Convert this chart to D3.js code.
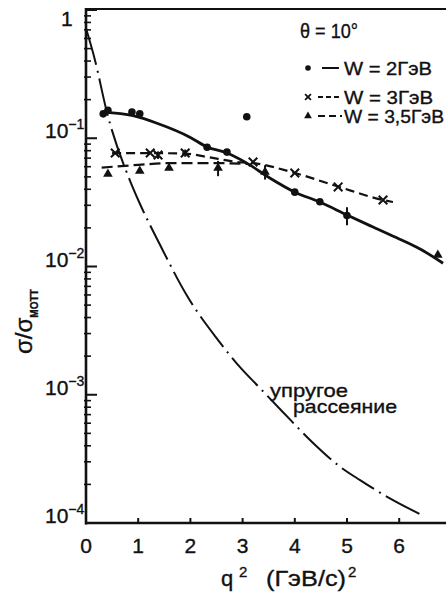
<!DOCTYPE html>
<html>
<head>
<meta charset="utf-8">
<script src="https://cdn.jsdelivr.net/npm/d3@7"></script>
<style>
  html, body { margin: 0; padding: 0; background: #fff; }
  svg { display: block; font-family: "Liberation Sans", "DejaVu Sans", sans-serif; }
  text { fill: #111; stroke: #111; stroke-width: 0.35; }
</style>
</head>
<body>
<svg width="446" height="595"></svg>
<script>
var width = 446,
    height = 595

// W = 2 GeV  (dots, solid curve)
var w2Q = [0.33, 0.42, 0.88, 1.03, 2.32, 2.70, 3.08, 4.00, 4.48, 5.00]
var w2Val = [0.155, 0.165, 0.160, 0.155, 0.085, 0.078, 0.147, 0.038, 0.032, 0.025]
var w2Err = [0, 0, 0, 0, 0, 0, 0, 0, 0, 0.004]
var w2LineQ = [0.33, 0.90, 1.36, 1.99, 2.32, 2.70, 3.08, 3.52, 4.00, 4.48, 5.00, 5.50, 6.00, 6.40, 6.84]
var w2LineVal = [0.160, 0.150, 0.131, 0.102, 0.0855, 0.0767, 0.064, 0.049, 0.038, 0.0318, 0.0252, 0.0203, 0.0164, 0.0137, 0.0106]

// W = 3 GeV  (crosses, short dashes)
var w3Q = [0.56, 1.23, 1.38, 1.90, 3.20, 4.00, 4.83, 5.69]
var w3Val = [0.0767, 0.0767, 0.074, 0.0767, 0.0653, 0.0536, 0.0417, 0.033]
var w3Err = [0, 0, 0.005, 0.005, 0, 0, 0, 0]
var w3LineQ = [0.50, 1.00, 1.90, 2.32, 2.95, 3.20, 4.00, 4.83, 5.69, 5.88]
var w3LineVal = [0.0767, 0.0767, 0.076, 0.0714, 0.065, 0.064, 0.0536, 0.042, 0.033, 0.0318]

// W = 3,5 GeV  (triangles, long dashes)
var w35Q = [0.42, 1.03, 1.59, 2.53, 3.43, 6.74]
var w35Val = [0.0526, 0.0555, 0.0586, 0.0586, 0.0546, 0.0123]
var w35Err = [0, 0, 0, 0.008, 0.007, 0]
var w35LineQ = [0.30, 1.00, 1.60, 2.50, 3.10]
var w35LineVal = [0.059, 0.062, 0.064, 0.064, 0.063]

// elastic scattering (dash-dot)
var elQ = [0, 0.17, 0.40, 0.84, 1.03, 1.42, 1.95, 2.53, 2.95, 3.33, 3.77, 4.35, 4.87, 5.25, 5.77, 6.44]
var elVal = [0.72, 0.41, 0.16, 0.047, 0.031, 0.0147, 0.00578, 0.00267, 0.00164, 0.00113, 0.000734, 0.000421, 0.000274, 0.000216, 0.000160, 0.000115]

var xTicks = [0, 1, 2, 3, 4, 5, 6, 7]
var yTicks = [1, 1e-1, 1e-2, 1e-3, 1e-4]
var yTickExp = ["", "-1", "-2", "-3", "-4"]
var legendNames = ["W = 2ГэВ", "W = 3ГэВ", "W = 3,5ГэВ"]

var svg = d3.select("svg")

var x = d3.scaleLinear().domain([0, 7]).range([86, 451.4])
var y = d3.scaleLog().domain([1e-4, 1]).range([523, 10])

// frame: top line, y axis, x axis
svg.append("line").attr("x1", x(0)).attr("x2", width).attr("y1", 9).attr("y2", 9)
    .attr("stroke", "#111").attr("stroke-width", 2.2)
svg.append("line").attr("x1", x(0)).attr("x2", x(0)).attr("y1", 8).attr("y2", 524.5)
    .attr("stroke", "#111").attr("stroke-width", 2.6)
svg.append("line").attr("x1", x(0) - 1).attr("x2", width).attr("y1", y(1e-4)).attr("y2", y(1e-4))
    .attr("stroke", "#111").attr("stroke-width", 2.6)

// x ticks
var xAxis = svg.append("g")
xAxis.selectAll(".xt").data(xTicks.slice(1)).enter().append("line")
    .attr("x1", d => x(d)).attr("x2", d => x(d))
    .attr("y1", y(1e-4)).attr("y2", y(1e-4) - 5)
    .attr("stroke", "#111").attr("stroke-width", 2)
xAxis.selectAll(".xl").data(xTicks).enter().append("text")
    .attr("x", d => x(d)).attr("y", 553)
    .attr("text-anchor", "middle").attr("font-size", 21)
    .text(d => d)

// y ticks, major and minor
var minor = []
for (var e = -4; e < 0; e++) {
    for (var m = 2; m <= 9; m++) minor.push(m * Math.pow(10, e))
}
svg.selectAll(".ymin").data(minor).enter().append("line")
    .attr("x1", x(0) - 2).attr("x2", x(0) + 5)
    .attr("y1", d => y(d)).attr("y2", d => y(d))
    .attr("stroke", "#111").attr("stroke-width", 1.6)
svg.selectAll(".ymaj").data(yTicks).enter().append("line")
    .attr("x1", x(0)).attr("x2", x(0) + 11)
    .attr("y1", d => y(d)).attr("y2", d => y(d))
    .attr("stroke", "#111").attr("stroke-width", 2)

var yl = svg.selectAll(".yl").data(yTicks).enter().append("text")
    .attr("x", (d, i) => i == 0 ? 61 : 45)
    .attr("y", d => Math.max(y(d), 26))
    .attr("font-size", 21)
yl.append("tspan").text((d, i) => i == 0 ? "1" : "10")
yl.append("tspan").attr("font-size", 14).attr("dy", -9)
    .text((d, i) => yTickExp[i] == "" ? "" : yTickExp[i].replace("-", "\u2212"))

// axis titles
var xt = svg.append("text").attr("y", 586).attr("font-size", 22)
xt.append("tspan").attr("x", 221).text("q")
xt.append("tspan").attr("x", 239).attr("dy", -9).attr("font-size", 15).text("2")
xt.append("tspan").attr("x", 266).attr("dy", 9)
    .attr("textLength", 80).attr("lengthAdjust", "spacingAndGlyphs").text("(ГэВ/с)")
xt.append("tspan").attr("x", 348).attr("dy", -9).attr("font-size", 15).text("2")

var yt = svg.append("text").attr("transform", "translate(32,354) rotate(-90)")
    .attr("font-size", 24)
yt.append("tspan").text("σ/σ")
yt.append("tspan").attr("font-size", 10).attr("font-weight", "bold").attr("dy", 6).text("MOTT")

// curves
var line = d3.line().x(d => x(d[0])).y(d => y(d[1])).curve(d3.curveMonotoneX)
var zip = (a, b) => a.map((v, i) => [v, b[i]])

svg.append("path").datum(zip(elQ, elVal)).attr("d", line)
    .attr("fill", "none").attr("stroke", "#111").attr("stroke-width", 2)
    .attr("stroke-dasharray", "38,6,2,6")
svg.append("path").datum(zip(w35LineQ, w35LineVal)).attr("d", line)
    .attr("fill", "none").attr("stroke", "#111").attr("stroke-width", 2.2)
    .attr("stroke-dasharray", "11,5")
svg.append("path").datum(zip(w3LineQ, w3LineVal)).attr("d", line)
    .attr("fill", "none").attr("stroke", "#111").attr("stroke-width", 2.2)
    .attr("stroke-dasharray", "9,5")
svg.append("path").datum(zip(w2LineQ, w2LineVal)).attr("d", line)
    .attr("fill", "none").attr("stroke", "#111").attr("stroke-width", 2.8)

// error bars
function errBars(q, v, err) {
    svg.selectAll(null).data(q.map((d, i) => [d, v[i], err[i]]).filter(d => d[2] > 0))
        .enter().append("line")
        .attr("x1", d => x(d[0])).attr("x2", d => x(d[0]))
        .attr("y1", d => y(d[1] + d[2])).attr("y2", d => y(d[1] - d[2]))
        .attr("stroke", "#111").attr("stroke-width", 2)
}
errBars(w2Q, w2Val, w2Err)
errBars(w3Q, w3Val, w3Err)
errBars(w35Q, w35Val, w35Err)

// markers
svg.selectAll(".dot").data(zip(w2Q, w2Val)).enter().append("circle")
    .attr("cx", d => x(d[0])).attr("cy", d => y(d[1])).attr("r", 3.8).attr("fill", "#111")
var cross = d3.symbol().type(d3.symbolTimes).size(50)
svg.selectAll(".cr").data(zip(w3Q, w3Val)).enter().append("path")
    .attr("d", cross).attr("transform", d => "translate(" + x(d[0]) + "," + y(d[1]) + ")")
    .attr("fill", "none").attr("stroke", "#111").attr("stroke-width", 2)
var tri = d3.symbol().type(d3.symbolTriangle).size(40)
svg.selectAll(".tr").data(zip(w35Q, w35Val)).enter().append("path")
    .attr("d", tri).attr("transform", d => "translate(" + x(d[0]) + "," + y(d[1]) + ")")
    .attr("fill", "#111")

// elastic label
svg.append("text").attr("x", 270).attr("y", 397).attr("font-size", 19)
    .attr("textLength", 78).attr("lengthAdjust", "spacingAndGlyphs").text("упругое")
svg.append("text").attr("x", 293).attr("y", 413).attr("font-size", 19)
    .attr("textLength", 104).attr("lengthAdjust", "spacingAndGlyphs").text("рассеяние")

// legend
svg.append("text").attr("x", 300).attr("y", 38).attr("font-size", 20)
    .attr("textLength", 58).attr("lengthAdjust", "spacingAndGlyphs").text("θ = 10°")
var rows = [68, 97, 116]
var dashes = [null, "5,3", "7,4"]
var ends = [432, 433, 444]
var g = svg.append("g")
g.append("circle").attr("cx", 308).attr("cy", rows[0]).attr("r", 2.8).attr("fill", "#111")
g.append("path").attr("d", d3.symbol().type(d3.symbolTimes).size(24))
    .attr("transform", "translate(308," + rows[1] + ")")
    .attr("fill", "none").attr("stroke", "#111").attr("stroke-width", 1.8)
g.append("path").attr("d", d3.symbol().type(d3.symbolTriangle).size(26))
    .attr("transform", "translate(308," + rows[2] + ")").attr("fill", "#111")
rows.forEach(function(ry, i) {
    g.append("line").attr("x1", i == 0 ? 322 : 318).attr("x2", i == 0 ? 339 : 342)
        .attr("y1", ry).attr("y2", ry)
        .attr("stroke", "#111").attr("stroke-width", 2)
        .attr("stroke-dasharray", dashes[i])
    g.append("text").attr("x", 344).attr("y", ry + 6.5).attr("font-size", 19)
        .attr("textLength", ends[i] - 344).attr("lengthAdjust", "spacingAndGlyphs")
        .text(legendNames[i])
})
</script>
</body>
</html>
